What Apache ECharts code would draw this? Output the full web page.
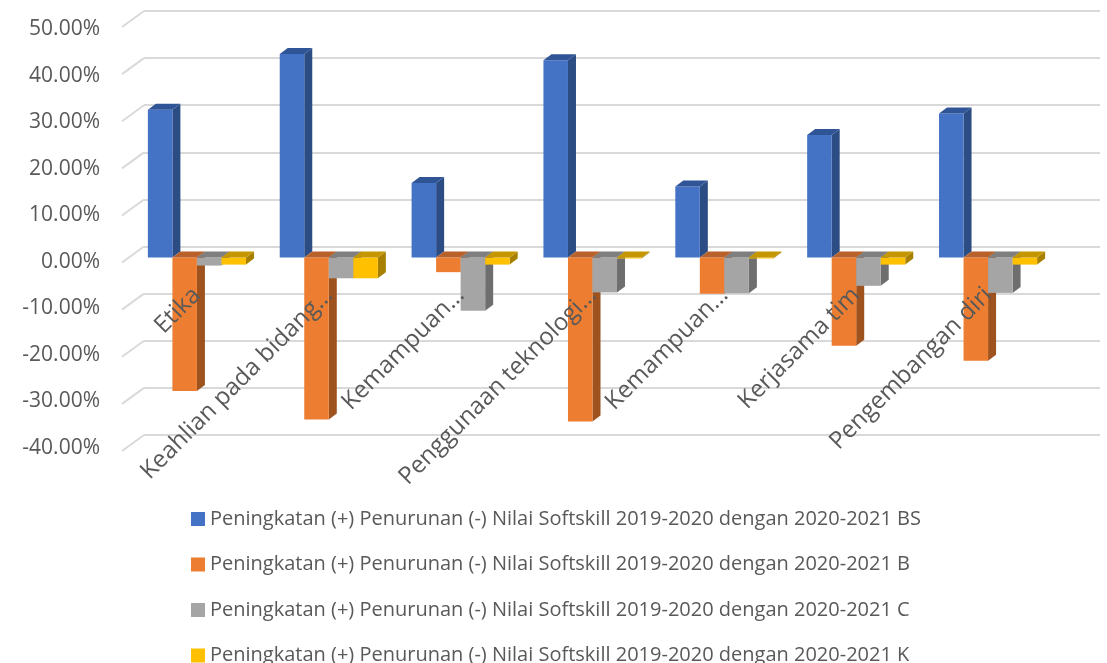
<!DOCTYPE html>
<html>
<head>
    <meta charset="utf-8"/>
    <title></title>
    <script src="https://cdn.jsdelivr.net/npm/echarts@6/dist/echarts.min.js"></script>
    <style>
        html, body { margin: 0; padding: 0; background: #fff; }
    </style>
</head>
<body>
<div id="main" style="width:1107px;height:663px;"></div>
<script type="text/javascript">
    /* data */
    var categories = ['Etika', 'Keahlian pada bidang…', 'Kemampuan…', 'Penggunaan teknologi…',
        'Kemampuan…', 'Kerjasama tim', 'Pengembangan diri'];
    var seriesNames = [
        'Peningkatan (+) Penurunan (-) Nilai Softskill 2019-2020 dengan 2020-2021 BS',
        'Peningkatan (+) Penurunan (-) Nilai Softskill 2019-2020 dengan 2020-2021 B',
        'Peningkatan (+) Penurunan (-) Nilai Softskill 2019-2020 dengan 2020-2021 C',
        'Peningkatan (+) Penurunan (-) Nilai Softskill 2019-2020 dengan 2020-2021 K'
    ];
    var valuesBS = [31.4, 43.2, 15.8, 41.9, 15.1, 26.0, 30.6];
    var valuesB = [-28.3, -34.4, -3.1, -34.8, -7.7, -18.7, -21.9];
    var valuesC = [-1.7, -4.4, -11.3, -7.4, -7.6, -6.0, -7.5];
    var valuesK = [-1.5, -4.4, -1.5, -0.2, -0.2, -1.5, -1.5];
    var yTicks = [-40, -30, -20, -10, 0, 10, 20, 30, 40, 50];
    var yMin = -40, yMax = 50;

    /* colours: front, side, top */
    var palette = [
        ['#4472C4', '#2C4C84', '#2F5597'],
        ['#ED7D31', '#9E531F', '#B9612A'],
        ['#A5A5A5', '#6E6E6E', '#7F7F7F'],
        ['#FFC000', '#A88000', '#C49600']
    ];
    var textColor = '#595959';
    var fontName = 'Open Sans';

    var W = 1107, H = 663;
    var dataGrid = {left: 131, right: 53, top: 22, bottom: 217};
    var gridH = H - dataGrid.top - dataGrid.bottom;
    // distance from the zero line up to the bottom of the data grid
    var zeroOffset = gridH * (0 - yMin) / (yMax - yMin);

    var chart = echarts.init(document.getElementById('main'));

    function makeBars(s) {
        return function (params, api) {
            var i = api.value(0), v = api.value(1);
            var base = api.coord([i, 0]);
            var tip = api.coord([i, v]);
            var band = api.size([1, 0])[0];
            var bw = band * 0.186, dx = 8, dy = 6;
            var x0 = base[0] - 2 * bw + s * bw;
            var yT = Math.min(base[1], tip[1]), yB = Math.max(base[1], tip[1]);
            var c = palette[s];
            return {
                type: 'group',
                children: [
                    {type: 'polygon', shape: {points: [[x0 + bw, yT], [x0 + bw + dx, yT - dy], [x0 + bw + dx, yB - dy], [x0 + bw, yB]]}, style: {fill: c[1]}},
                    {type: 'rect', shape: {x: x0, y: yT, width: bw, height: yB - yT}, style: {fill: c[0]}},
                    {type: 'polygon', shape: {points: [[x0, yT], [x0 + dx, yT - dy], [x0 + bw + dx, yT - dy], [x0 + bw, yT]]}, style: {fill: c[2]}}
                ]
            };
        };
    }

    var allValues = [valuesBS, valuesB, valuesC, valuesK];
    var series = [];
    /* left wall lines of the 3d grid */
    series.push({
        type: 'custom',
        xAxisIndex: 0,
        yAxisIndex: 0,
        silent: true,
        data: yTicks.map(function (t) { return [0, t]; }),
        renderItem: function (params, api) {
            var p = api.coord([0, api.value(1)]);
            return {type: 'line', shape: {x1: p[0], y1: p[1], x2: p[0] - 22, y2: p[1] + 16},
                style: {stroke: '#D9D9D9', lineWidth: 2}};
        }
    });
    for (var s = 0; s < 4; s++) {
        series.push({
            name: seriesNames[s],
            type: 'custom',
            xAxisIndex: 1,
            yAxisIndex: 1,
            itemStyle: {color: palette[s][0]},
            encode: {x: 0, y: 1},
            data: allValues[s].map(function (v, i) { return [i, v]; }),
            renderItem: makeBars(s)
        });
    }

    var option = {
        animation: false,
        textStyle: {fontFamily: fontName},
        legend: {
            orient: 'vertical',
            left: 186,
            top: 504,
            height: 300,
            itemWidth: 14,
            itemHeight: 14,
            itemGap: 25.5,
            icon: 'rect',
            data: seriesNames,
            textStyle: {fontFamily: fontName, fontSize: 20, color: textColor}
        },
        grid: [
            // back wall grid lines
            {left: 144, right: 7, top: 11, bottom: 228, outerBoundsMode: 'none', containLabel: false},
            // bars
            {left: dataGrid.left, right: dataGrid.right, top: dataGrid.top, bottom: dataGrid.bottom, outerBoundsMode: 'none', containLabel: false},
            // front y labels
            {left: 110, right: 7, top: 29, bottom: 215, outerBoundsMode: 'none', containLabel: false}
        ],
        xAxis: [
            {type: 'value', gridIndex: 0, min: 0, max: 1, show: false},
            {
                type: 'category', gridIndex: 1, data: categories, z: 20,
                offset: -zeroOffset,
                axisLine: {show: false, onZero: false}, axisTick: {show: false},
                axisLabel: {rotate: 45, margin: 34, color: textColor, fontSize: 24, fontFamily: fontName, interval: 0}
            },
            {type: 'value', gridIndex: 2, min: 0, max: 1, show: false}
        ],
        yAxis: [
            {
                type: 'value', gridIndex: 0, min: yMin, max: yMax, interval: 10,
                axisLine: {show: false}, axisTick: {show: false},
                splitLine: {lineStyle: {color: '#D9D9D9', width: 2}},
                axisLabel: {show: false}
            },
            {type: 'value', gridIndex: 1, min: yMin, max: yMax, interval: 10, show: false},
            {
                type: 'value', gridIndex: 2, min: yMin, max: yMax, interval: 10,
                axisLine: {show: false}, axisTick: {show: false}, splitLine: {show: false},
                axisLabel: {
                    margin: 10, color: textColor, fontSize: 21, fontFamily: fontName,
                    formatter: function (v) { return v.toFixed(2) + '%'; }
                }
            }
        ],
        series: series
    };

    chart.setOption(option);
    window.onresize = chart.resize;
</script>
</body>
</html>
